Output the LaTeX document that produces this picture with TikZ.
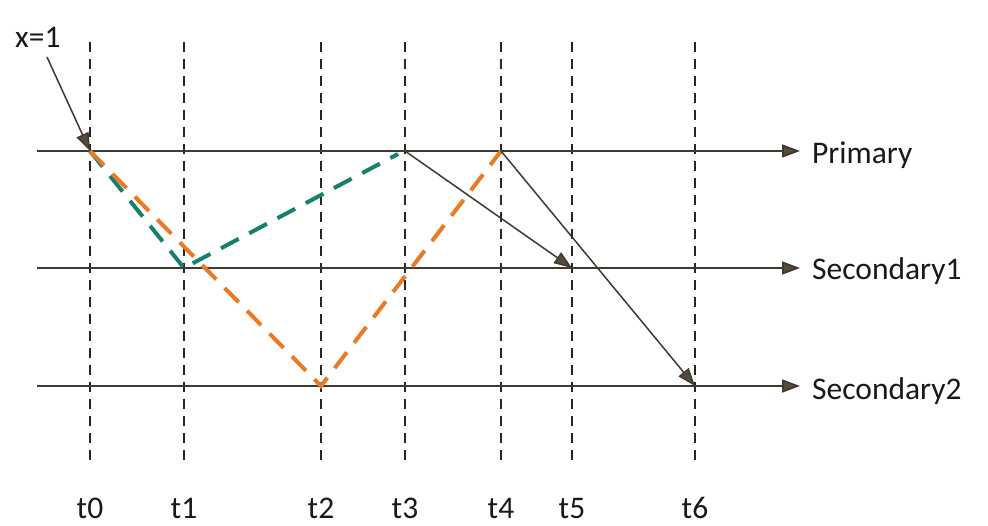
\documentclass[tikz,border=0pt]{standalone}
\usepackage{fontspec}
\setmainfont{Carlito}
\usetikzlibrary{arrows.meta}
\definecolor{axis}{HTML}{3F3A30}
\definecolor{tip}{HTML}{554B3A}
\definecolor{teal}{HTML}{15806C}
\definecolor{orng}{HTML}{EA7A24}
\tikzset{
  guide/.style={draw=black!85, line width=1.6pt, dash pattern=on 10pt off 7pt},
  timeline/.style={draw=axis, line width=1.8pt, -{Triangle[length=18pt,width=13pt,fill=tip]}},
  msg/.style={draw=axis, line width=1.5pt, -{Triangle[length=18pt,width=13pt,fill=tip]}},
  tealpath/.style={draw=teal, line width=4pt, dash pattern=on 20pt off 12pt},
  orngpath/.style={draw=orng, line width=4pt, dash pattern=on 20pt off 12pt},
  lbl/.style={font=\fontsize{31.5}{37}\selectfont, text=black!90, inner sep=0pt},
}
\begin{document}
\begin{tikzpicture}[x=1pt,y=-1pt]
\useasboundingbox[fill=white] (0,0) rectangle (988,526);
% time guides
\foreach \n/\x in {0/90,1/184,2/321,3/405,4/501,5/572,6/695}{
  \coordinate (g\n top) at (\x,42);
  \coordinate (g\n bot) at (\x,460);
  \draw[guide] (g\n top) -- (g\n bot);
  \node[lbl, anchor=base] (t\n) at (\x,518) {t\n};
}
% timelines
\coordinate (pS) at (37,151);  \coordinate (pE) at (800,151);
\coordinate (s1S) at (37,268); \coordinate (s1E) at (800,268);
\coordinate (s2S) at (37,386); \coordinate (s2E) at (800,386);
\draw[timeline] (pS) -- (pE);
\draw[timeline] (s1S) -- (s1E);
\draw[timeline] (s2S) -- (s2E);
\node[lbl, anchor=west] (primary) at (812,155) {Primary};
\node[lbl, anchor=west] (sec1) at (812,271) {Secondary1};
\node[lbl, anchor=west] (sec2) at (812,391) {Secondary2};
% event points
\coordinate (P0) at (90,151);
\coordinate (S1a) at (184,268);
\coordinate (S2a) at (321,386);
\coordinate (P3) at (405,151);
\coordinate (P4) at (501,151);
\coordinate (S1b) at (572,268);
\coordinate (S2b) at (695,386);
\coordinate (P3t) at (398,154);
% dashed replication paths
\draw[tealpath] (P0) -- (S1a) -- (P3t);
\draw[orngpath] (P0) -- (S2a) -- (P4);
% messages
\draw[msg] (P3) -- (S1b);
\draw[msg] (P4) -- (S2b);
% x=1
\node[lbl, anchor=base west] (x1) at (15,48) {x=1};
\coordinate (xs) at (47,57);
\draw[msg] (xs) -- (P0);
\end{tikzpicture}
\end{document}
